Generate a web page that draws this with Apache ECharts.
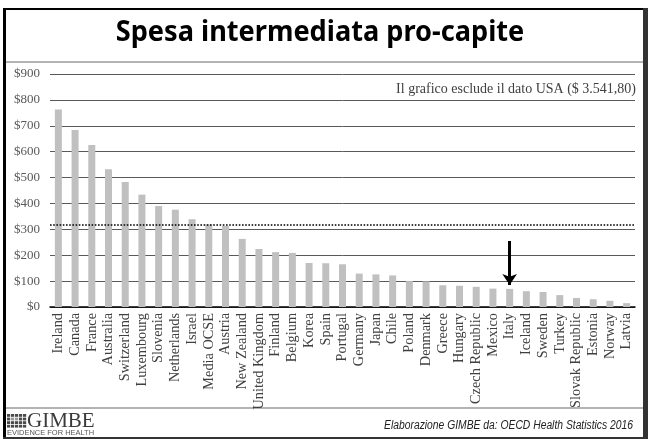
<!DOCTYPE html>
<html>
<head>
<meta charset="utf-8">
<script src="https://cdn.jsdelivr.net/npm/echarts@6/dist/echarts.min.js"></script>
<style>
  html, body { margin: 0; padding: 0; background: #fff; }
  #chart { width: 648px; height: 439px; }
</style>
</head>
<body>
<div id="chart"></div>
<script>
// Intermediated spending per capita (USD), OECD countries, USA excluded
const countries = ['Ireland', 'Canada', 'France', 'Australia', 'Switzerland', 'Luxembourg', 'Slovenia',
  'Netherlands', 'Israel', 'Media OCSE', 'Austria', 'New Zealand', 'United Kingdom', 'Finland', 'Belgium',
  'Korea', 'Spain', 'Portugal', 'Germany', 'Japan', 'Chile', 'Poland', 'Denmark', 'Greece', 'Hungary',
  'Czech Republic', 'Mexico', 'Italy', 'Iceland', 'Sweden', 'Turkey', 'Slovak Republic', 'Estonia',
  'Norway', 'Latvia'];
const spending = [763, 684, 626, 532, 483, 434, 390, 376, 339, 319, 313, 263, 224, 212, 209,
  170, 169, 165, 129, 126, 122, 100, 99, 84, 82, 78, 71, 70, 61, 58, 46, 35, 30, 24, 15];
const oecdAverage = 319;
const highlighted = 'Italy';
const arrowFrom = 255;
const arrowTo = 85;
const yTicks = { min: 0, max: 900, interval: 100 };

const titleText = 'Spesa intermediata pro-capite';
const noteText = 'Il grafico esclude il dato USA ($ 3.541,80)';
const sourceText = 'Elaborazione GIMBE da: OECD Health Statistics 2016';

const chart = echarts.init(document.getElementById('chart'), null, { renderer: 'canvas' });

// logo icon: small checkered block
const logoCells = [];
for (let r = 0; r < 4; r++) {
  for (let c = 0; c < 5; c++) {
    logoCells.push({
      type: 'rect',
      shape: { x: 7 + c * 4, y: 414 + r * 3.6, width: 3.2, height: 2.8 },
      style: { fill: (r === 1 && (c === 1 || c === 2)) ? '#999' : '#4a4a4a' }
    });
  }
}

chart.setOption({
  animation: false,
  backgroundColor: '#fff',
  grid: { left: 50, right: 13, top: 74, bottom: 132, containLabel: false },
  xAxis: {
    type: 'category',
    data: countries,
    axisLine: { lineStyle: { color: '#000', width: 1.5 } },
    axisTick: { show: false },
    axisLabel: {
      interval: 0, rotate: 90, margin: 6,
      fontFamily: 'Liberation Serif', fontSize: 14.3, color: '#404040'
    }
  },
  yAxis: {
    type: 'value',
    min: yTicks.min, max: yTicks.max, interval: yTicks.interval,
    axisLine: { show: false },
    axisTick: { show: false },
    splitLine: { lineStyle: { color: '#595959', width: 1 } },
    axisLabel: {
      margin: 10, formatter: v => '$' + v,
      fontFamily: 'Liberation Serif', fontSize: 13, color: '#595959'
    }
  },
  series: [{
    type: 'bar',
    data: spending,
    barWidth: 7,
    itemStyle: { color: '#c0c0c0' },
    markLine: {
      silent: true,
      symbol: 'none',
      label: { show: false },
      data: [
        { yAxis: oecdAverage, lineStyle: { type: 'dotted', color: '#000', width: 1.6 } },
        [
          { coord: [highlighted, arrowFrom], symbol: 'none' },
          { coord: [highlighted, arrowTo], symbol: 'arrow', symbolSize: [11, 11],
            lineStyle: { type: 'solid', color: '#000', width: 3 } }
        ]
      ]
    }
  }],
  graphic: [
    // slide frame
    { type: 'rect', shape: { x: 3, y: 8, width: 641, height: 2 }, style: { fill: '#000' } },
    { type: 'rect', shape: { x: 3, y: 8, width: 3, height: 431 }, style: { fill: '#000' } },
    { type: 'rect', shape: { x: 643, y: 8, width: 5, height: 431 }, style: { fill: '#333' } },
    { type: 'rect', shape: { x: 3, y: 437, width: 641, height: 2 }, style: { fill: '#333' } },
    { type: 'line', shape: { x1: 6, y1: 62, x2: 643, y2: 62 }, style: { stroke: '#9a9a9a', lineWidth: 1.5 } },
    { type: 'line', shape: { x1: 6, y1: 408, x2: 643, y2: 408 }, style: { stroke: '#9a9a9a', lineWidth: 1.5 } },
    // title
    {
      type: 'text', x: 320, y: 33, scaleX: 0.97,
      style: {
        text: titleText, fontFamily: 'Noto Sans', fontWeight: 'bold', fontSize: 28,
        fill: '#000', align: 'center', verticalAlign: 'middle'
      }
    },
    // note in the plot corner
    {
      type: 'text', x: 636, y: 89,
      style: {
        text: noteText, fontFamily: 'Liberation Serif', fontSize: 14,
        fill: '#404040', align: 'right', verticalAlign: 'middle'
      }
    },
    // source line
    {
      type: 'text', x: 633, y: 426, scaleX: 0.86,
      style: {
        text: sourceText, fontFamily: 'Liberation Sans', fontStyle: 'italic', fontSize: 12,
        fill: '#222', align: 'right', verticalAlign: 'middle'
      }
    },
    // logo
    ...logoCells,
    {
      type: 'text', x: 27, y: 421,
      style: {
        text: 'GIMBE', fontFamily: 'Liberation Serif', fontSize: 21,
        fill: '#3a3a3a', align: 'left', verticalAlign: 'middle'
      }
    },
    {
      type: 'text', x: 7, y: 433.5, scaleX: 1.15,
      style: {
        text: 'EVIDENCE FOR HEALTH', fontFamily: 'Liberation Sans', fontSize: 6.5,
        fill: '#555', align: 'left', verticalAlign: 'middle'
      }
    }
  ]
});
</script>
</body>
</html>
